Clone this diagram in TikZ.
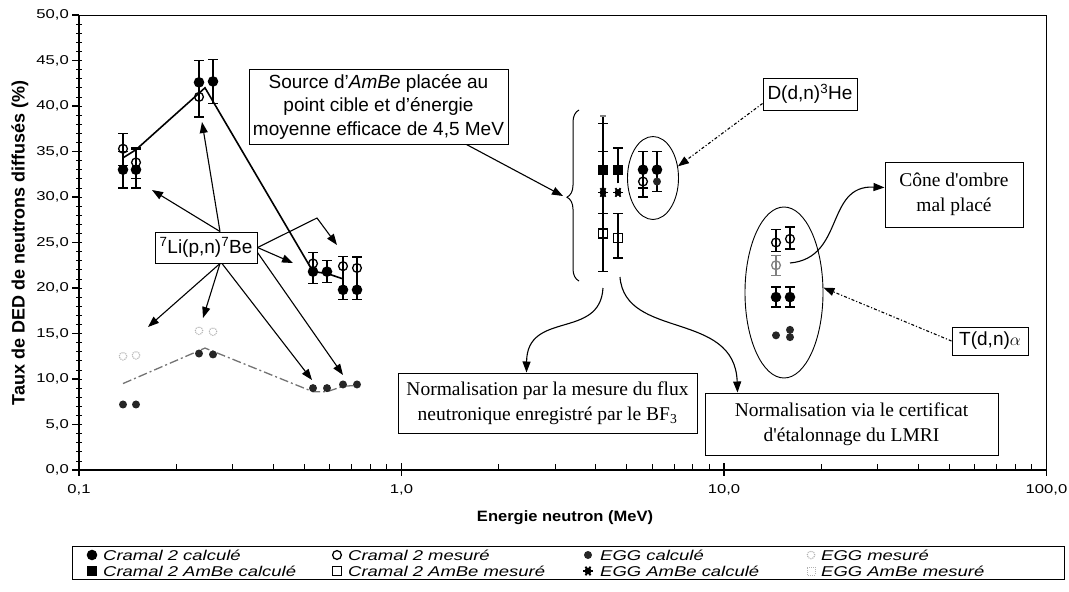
\documentclass[tikz,border=0pt]{standalone}
\usepackage{fontspec}
\setmainfont{Liberation Sans}
\newfontfamily\timesfont{Liberation Serif}
\newfontfamily\tickfont[FakeStretch=1.3]{Liberation Sans}
\newfontfamily\legfont[FakeStretch=1.3]{Liberation Sans}
\newfontfamily\titlefont[FakeStretch=1.1]{Liberation Sans}
\usetikzlibrary{arrows.meta, shapes.geometric, decorations.pathreplacing}

% marks of the series
\newcommand{\ebar}[3]{\draw[ebar] (#1,#2) -- (#1,#3) (#1-5,#2) -- (#1+5,#2) (#1-5,#3) -- (#1+5,#3);}
\newcommand{\cramcalc}[2]{\fill (#1,#2) circle[radius=5.3pt];}
\newcommand{\crammes}[2]{\draw[line width=1.3pt] (#1,#2) circle[radius=4.4pt];}
\newcommand{\eggcalc}[2]{\fill[black!85] (#1,#2) circle[radius=4pt];}
\newcommand{\eggmes}[2]{\draw[gray!60, line width=1.1pt, densely dotted] (#1,#2) circle[radius=3.8pt];}
\newcommand{\amcalc}[2]{\fill (#1,#2) ++(-5pt,-5pt) rectangle ++(10pt,10pt);}
\newcommand{\ammes}[2]{\draw[line width=1.3pt] (#1,#2) ++(-4.5pt,-4.5pt) rectangle ++(9pt,9pt);}
\newcommand{\eggstar}[2]{\foreach \a in {0,60,120} \draw[line width=1.8pt] (#1,#2) ++(\a:5pt) -- ++(\a+180:10pt);
  \fill (#1,#2) circle[radius=3.4pt];}
\newcommand{\eggsq}[2]{\draw[gray!60, line width=1pt, densely dotted] (#1,#2) ++(-4pt,-4pt) rectangle ++(8pt,8pt);}

\tikzset{
  ticklab/.style={font=\tickfont\fontsize{12.8}{15}\selectfont, inner sep=0pt},
  legtext/.style={font=\legfont\itshape\fontsize{14.2}{16}\selectfont, anchor=west, inner sep=0pt},
  sansbox/.style={draw, line width=1pt, align=center, inner sep=0pt, font=\fontsize{19}{23.5}\selectfont},
  serifbox/.style={draw, line width=1pt, align=center, inner sep=0pt, font=\timesfont\fontsize{19.5}{25}\selectfont},
  ebar/.style={line width=1.3pt},
  arr/.style={line width=1.1pt, -{Triangle[length=11pt,width=8pt]}},
  ring/.style={draw, ellipse, line width=0.9pt, inner sep=0pt}
}

\begin{document}
\begin{tikzpicture}[x=1pt, y=-1pt]
\useasboundingbox (0,0) rectangle (1069,592);
% cadre et axes
\draw[line width=1pt] (79,15) -- (1046,15) -- (1046,470);
\draw[line width=2.4pt] (79,15) -- (79,470) -- (1046,470);
\foreach \d in {0,1,2}
  \foreach \m in {2,...,9}
    \draw[line width=1pt] ({79+322.5*(\d+log10(\m))},464) -- ++(0,6);
\foreach \d/\lab in {0/{0,1},1/{1,0},2/{10,0},3/{100,0}} {
  \draw[line width=1.4pt] ({79+322.5*\d},463) -- ++(0,13);
  \node[ticklab] (xl\d) at ({79+322.5*\d},490) {\lab};
}
\node[rotate=90, font=\bfseries\fontsize{18}{20}\selectfont] (ytitle) at (20,243) {Taux de DED de neutrons diffusés (\%)};
\node[font=\titlefont\bfseries\fontsize{15}{18}\selectfont] (xtitle) at (565,518) {Energie neutron (MeV)};

\begin{scope}[shift={(0,470)}, y=9.1pt]
  \foreach \v in {1,...,49} \draw[line width=0.8pt] (76,\v) -- (82,\v);
  \foreach \v in {0,5,...,50} {
    \draw[line width=1.4pt] (72,\v) -- (79,\v);
    \node[ticklab, anchor=east] (yl\v) at (69,\v) {\v,0};
  }
  % Li(p,n)Be
  \draw[line width=1.6pt] (123,34.3) -- (136,35.2) -- (205,42.0) -- (313,21.8) -- (327,21.6) -- (343,21.0);
  \draw[black!55, line width=1.3pt, dash pattern=on 9pt off 3pt on 2pt off 3pt] (123,9.5) -- (205,13.4) -- (313,8.6) -- (327,8.6) -- (343,9.2) -- (357,9.3);
  \ebar{123}{31.0}{35.0} \cramcalc{123}{33.0}
  \ebar{136}{31.0}{35.2} \cramcalc{136}{33.0}
  \ebar{123}{33.5}{37.0} \crammes{123}{35.3}
  \ebar{136}{32.0}{35.4} \crammes{136}{33.8}
  \ebar{199}{38.8}{45.0} \cramcalc{199}{42.6} \crammes{199}{41.0}
  \ebar{213}{40.3}{45.1} \cramcalc{213}{42.7}
  \ebar{313}{20.5}{23.9} \cramcalc{313}{21.8} \crammes{313}{22.7}
  \ebar{327}{20.6}{23.0} \cramcalc{327}{21.8}
  \ebar{343}{18.7}{23.5} \cramcalc{343}{19.8} \crammes{343}{22.4}
  \ebar{357}{18.7}{23.4} \cramcalc{357}{19.8} \crammes{357}{22.2}
  \eggcalc{123}{7.2} \eggcalc{136}{7.2} \eggcalc{199}{12.8} \eggcalc{213}{12.7}
  \eggcalc{313}{9.0} \eggcalc{327}{9.0} \eggcalc{343}{9.4} \eggcalc{357}{9.4}
  \eggmes{123}{12.5} \eggmes{136}{12.6} \eggmes{199}{15.3} \eggmes{213}{15.2}
  % AmBe
  \draw[ebar] (603,21.8) -- (603,38.9);
  \foreach \c in {21.8,28.2,35.0,38.1} \draw[ebar] (598,\c) -- (608,\c);
  \draw[ebar, gray] (600,38.9) -- (606,38.9);
  \ebar{618}{23.3}{28.2}
  \draw[ebar] (618,31.5) -- (618,35.4) (613,35.4) -- (623,35.4);
  \amcalc{603}{33.0} \amcalc{618}{33.0}
  \eggstar{603}{30.5} \eggstar{618}{30.5}
  \ammes{603}{26.0} \ammes{618}{25.5}
  % D(d,n)He
  \ebar{643}{30.0}{35.0} \draw[ebar] (638,31.0) -- (648,31.0);
  \cramcalc{643}{33.0} \crammes{643}{31.7}
  \ebar{657}{30.6}{35.0} \cramcalc{657}{33.0} \eggcalc{657}{31.7}
  % T(d,n)alpha
  \ebar{776}{24.0}{26.4} \crammes{776}{25.0}
  \ebar{790}{24.3}{26.7} \crammes{790}{25.4}
  \begin{scope}[gray]
    \ebar{776}{21.4}{23.6} \crammes{776}{22.5}
  \end{scope}
  \ebar{776}{17.9}{20.1} \cramcalc{776}{19.0}
  \ebar{790}{17.9}{20.1} \cramcalc{790}{19.0}
  \eggcalc{776}{14.8} \eggcalc{790}{14.6} \eggcalc{790}{15.4}
\end{scope}

% annotations
\node[sansbox, minimum width=259pt, minimum height=75pt] (src) at (378.5,106.5)
  {Source d'\textit{AmBe} placée au\\ point cible et d'énergie\\ moyenne efficace de 4,5 MeV};
\node[sansbox, minimum width=102pt, minimum height=31pt] (li) at (206,247.5) {\textsuperscript{7}Li(p,n)\textsuperscript{7}Be};
\node[sansbox, minimum width=94pt, minimum height=32pt] (dbox) at (810,94) {D(d,n)\textsuperscript{3}He};
\node[sansbox, minimum width=76pt, minimum height=28pt] (tbox) at (990,341) {T(d,n)$\alpha$};
\node[serifbox, minimum width=299pt, minimum height=60pt] (n1) at (547.5,403)
  {Normalisation par la mesure du flux\\ neutronique enregistré par le BF\textsubscript{3}};
\node[serifbox, minimum width=293pt, minimum height=62pt] (n2) at (851.5,424)
  {Normalisation via le certificat\\ d'étalonnage du LMRI};
\node[serifbox, minimum width=138pt, minimum height=65pt] (cone) at (954,194.5) {Cône d'ombre\\ mal placé};
\node[ring, minimum width=51pt, minimum height=83pt] (ddn) at (653,178) {};
\node[ring, minimum width=78pt, minimum height=171pt] (tdn) at (784,292.5) {};

\coordinate (braceB) at (579,281);
\coordinate (braceT) at (579,110);
\coordinate (braceTip) at (563,196);
\coordinate (amb1) at (603,288);
\coordinate (amb2) at (620,277);
\coordinate (ombre) at (790,263);
\coordinate (p1) at (152,190);
\coordinate (p2) at (202,122);
\coordinate (p3) at (337,245);
\coordinate (p4) at (293,263);
\coordinate (p5) at (148,327);
\coordinate (p6) at (203,318);
\coordinate (p7) at (312,380);
\coordinate (p8) at (343,375);

\draw[line width=1pt, decorate, decoration={brace, amplitude=12pt, aspect=0.49}] (braceB) -- (braceT);
\draw[arr] ([xshift=88pt]src.south) -- (braceTip);
\draw[arr] (amb1) .. controls (600,340) and (527,310) .. ([xshift=-21pt]n1.north);
\draw[arr] (amb2) .. controls (625,340) and (735,310) .. ([xshift=-114pt]n2.north);
\draw[arr] (ombre) .. controls (845,258) and (825,185) .. ([yshift=7pt]cone.west);
\draw[arr, dash dot] (tbox.west) -- (tdn.7);
\draw[arr, dash dot] ([yshift=7pt]dbox.south west) -- (ddn.25);
\draw[arr] ([xshift=14pt]li.north) -- (p1);
\draw[arr] ([xshift=14pt]li.north) -- (p2);
\draw[arr] (li.east) -- (317,218) -- (p3);
\draw[arr] (li.east) -- (p4);
\draw[arr] ([xshift=14pt]li.south) -- (p5);
\draw[arr] ([xshift=14pt]li.south) -- (p6);
\draw[arr] ([xshift=16pt]li.south) -- (p7);
\draw[arr] ([yshift=-5pt]li.east) -- (p8);

% legende
\node[draw, line width=1pt, minimum width=992pt, minimum height=33pt, inner sep=0pt] (leg) at (568,562.5) {};
\cramcalc{92}{555} \node[legtext] (lg1) at (103,555) {Cramal 2 calculé};
\crammes{337}{555} \node[legtext] (lg2) at (348,555) {Cramal 2 mesuré};
\eggcalc{588}{555} \node[legtext] (lg3) at (600,555) {EGG calculé};
\eggmes{811}{555} \node[legtext] (lg4) at (821,555) {EGG mesuré};
\amcalc{92}{571} \node[legtext] (lg5) at (103,571) {Cramal 2 AmBe calculé};
\ammes{337}{571} \node[legtext] (lg6) at (348,571) {Cramal 2 AmBe mesuré};
\eggstar{588}{571} \node[legtext] (lg7) at (600,571) {EGG AmBe calculé};
\eggsq{811}{571} \node[legtext] (lg8) at (821,571) {EGG AmBe mesuré};
\end{tikzpicture}
\end{document}
